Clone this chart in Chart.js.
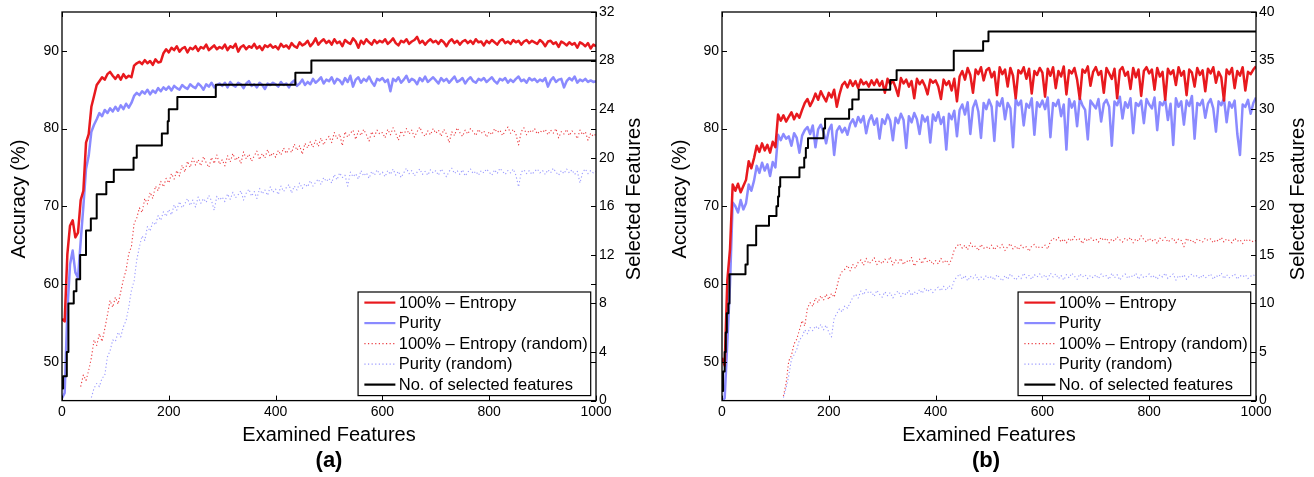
<!DOCTYPE html>
<html><head><meta charset="utf-8">
<script src="https://cdn.jsdelivr.net/npm/chart.js@4.4.1/dist/chart.umd.min.js"></script>
<style>
html,body{margin:0;padding:0;background:#fff;}
#wrap{position:relative;width:1314px;height:477px;overflow:hidden;background:#fff;}
canvas{position:absolute;top:0;}
#ca{left:0;} #cb{left:658px;}
</style></head><body>
<div id="wrap"><canvas id="ca" width="658" height="477"></canvas><canvas id="cb" width="656" height="477"></canvas></div>
<script>
const FONT = '"Liberation Sans", Arial, Helvetica, sans-serif';
Chart.defaults.font.family = FONT;
Chart.defaults.color = '#000';

// ---- shared axis data ----
const examined = [
0,5,10,15,20,25,30,35,40,45,50,55,60,65,70,75,80,85,90,95,
100,105,110,115,120,125,130,135,140,145,150,155,160,165,170,175,180,185,190,195,
200,205,210,215,220,225,230,235,240,245,250,255,260,265,270,275,280,285,290,295,
300,305,310,315,320,325,330,335,340,345,350,355,360,365,370,375,380,385,390,395,
400,405,410,415,420,425,430,435,440,445,450,455,460,465,470,475,480,485,490,495,
500,505,510,515,520,525,530,535,540,545,550,555,560,565,570,575,580,585,590,595,
600,605,610,615,620,625,630,635,640,645,650,655,660,665,670,675,680,685,690,695,
700,705,710,715,720,725,730,735,740,745,750,755,760,765,770,775,780,785,790,795,
800,805,810,815,820,825,830,835,840,845,850,855,860,865,870,875,880,885,890,895,
900,905,910,915,920,925,930,935,940,945,950,955,960,965,970,975,980,985,990,995,
1000];
const xTicks = [0,200,400,600,800,1000];
const accTicks = [50,60,70,80,90];
const selTicksA = [0,4,8,12,16,20,24,28,32];
const selTicksB = [0,5,10,15,20,25,30,35,40];
const seriesNames = ['100% \u2013 Entropy','Purity','100% \u2013 Entropy (random)','Purity (random)','No. of selected features'];

// ---- panel (a) ----
const entropyA = [
55.5,55.2,63.8,67.5,68.2,66.0,66.6,70.8,72.0,78.2,79.3,82.8,84.2,85.6,86.1,86.6,86.3,87.0,87.3,86.8,
86.4,86.9,86.3,87.0,86.5,86.8,86.6,88.1,88.4,88.6,88.3,88.8,88.4,88.7,88.2,88.9,88.5,88.6,89.7,90.2,
89.8,90.4,90.1,90.6,89.9,90.3,90.5,89.8,90.4,90.2,90.6,90.0,90.5,90.3,90.8,90.1,90.4,90.7,90.2,90.5,
90.3,90.8,90.1,90.6,90.4,90.9,89.9,90.5,90.7,90.2,90.6,90.4,90.9,90.3,90.6,90.1,90.7,90.5,90.8,90.4,
90.6,90.2,90.9,90.5,90.7,90.3,91.0,90.6,90.4,91.1,90.7,90.9,91.3,90.6,91.0,91.6,90.8,91.2,91.5,91.0,
91.3,90.8,91.5,91.0,91.2,90.6,91.4,91.1,90.9,91.6,91.2,90.4,91.3,90.9,91.5,91.1,90.8,91.4,91.0,91.3,
91.1,91.5,90.9,91.2,91.6,91.0,90.7,91.3,91.1,91.5,90.9,91.2,91.4,91.8,91.0,91.3,90.8,91.2,91.5,91.1,
91.3,90.9,91.4,91.1,90.6,91.2,91.5,91.0,91.3,90.8,91.2,91.4,91.0,91.3,90.9,91.5,91.1,91.2,90.7,91.3,
91.0,91.4,91.1,90.8,91.3,91.5,91.0,91.2,90.9,91.4,91.1,91.3,90.8,91.2,91.4,91.0,91.3,91.1,90.9,91.4,
91.1,90.6,91.2,91.3,90.9,91.1,90.5,91.2,91.0,90.7,91.1,90.8,91.0,90.4,91.1,90.9,90.6,91.0,90.3,90.8,
90.6];
const purityA = [
45.3,46.0,56.5,62.5,64.3,61.5,60.8,65.5,70.0,74.8,76.5,79.6,80.5,81.2,82.0,81.6,82.4,82.0,82.6,82.2,
82.8,82.3,83.0,82.5,83.2,82.7,83.3,84.2,84.6,84.3,84.8,84.5,85.0,84.4,84.9,84.6,85.2,84.8,85.3,85.0,
85.4,84.9,85.5,85.2,85.0,85.6,85.3,85.1,85.7,85.4,85.2,85.8,85.5,85.0,85.7,85.4,85.9,85.3,85.6,85.8,
85.5,85.9,85.3,86.0,85.6,85.4,85.9,85.7,85.2,85.8,86.1,85.5,85.7,85.3,85.9,85.6,85.1,85.8,85.6,85.9,
85.7,85.4,86.0,85.6,85.8,85.3,85.9,86.2,85.5,85.8,86.3,85.6,86.0,85.7,86.4,85.9,86.2,86.6,85.8,86.3,
86.1,86.6,85.8,86.4,86.2,85.7,86.5,86.0,86.8,85.4,86.3,86.6,85.9,86.4,86.1,86.7,86.0,85.5,86.4,86.2,
86.5,86.0,86.3,84.8,86.4,86.1,86.6,85.9,86.3,86.8,86.0,86.4,86.2,85.7,86.5,86.1,86.7,86.0,86.3,86.6,
86.2,85.8,86.5,86.1,86.4,85.9,86.3,86.7,86.0,86.2,86.5,85.8,86.3,86.6,86.1,85.9,86.4,86.2,86.5,86.0,
86.3,86.6,86.1,85.8,86.4,86.2,86.5,85.9,86.3,86.0,86.4,86.7,86.1,86.3,85.9,86.5,86.2,86.4,86.0,86.3,
86.1,86.5,85.4,86.2,86.6,86.0,86.3,86.4,85.3,86.1,86.5,86.2,86.7,85.9,86.3,86.1,86.4,86.0,86.2,86.0,
86.1];
const entropyRandA = [
null,null,null,null,null,null,null,46.8,48.3,47.6,48.9,50.5,52.8,52.1,53.6,52.6,54.2,56.0,57.9,57.0,
58.3,57.4,59.0,60.6,61.8,63.9,64.8,67.8,68.5,69.8,69.2,71.0,70.3,71.8,71.0,72.6,72.0,73.2,72.5,73.6,
73.0,74.2,73.5,74.6,73.9,75.3,74.4,75.8,75.0,76.2,75.3,76.0,75.2,76.4,75.6,75.0,76.3,75.5,76.6,75.4,
76.0,75.2,76.5,75.7,76.8,75.9,76.4,75.5,77.0,76.1,76.7,75.8,76.5,77.1,76.0,76.8,76.2,77.3,76.4,76.9,
76.3,77.2,76.6,77.5,76.8,77.4,76.9,78.0,77.2,77.8,76.7,78.1,77.5,78.3,77.6,78.5,77.7,78.8,77.9,78.6,
79.0,78.2,79.5,78.7,79.3,77.8,79.6,78.9,79.4,79.8,78.6,79.7,79.1,79.9,79.2,78.4,79.6,79.0,79.8,79.3,
79.5,78.8,79.9,79.2,80.1,79.4,78.5,79.7,79.1,80.0,79.3,79.8,78.9,79.6,80.2,79.4,79.0,79.7,79.2,80.0,
79.4,79.8,79.0,79.9,79.3,78.2,79.6,79.1,80.1,79.5,79.0,79.8,79.3,80.0,79.6,79.1,79.9,79.4,79.7,78.9,
79.6,79.2,80.0,79.5,79.8,79.1,79.7,80.2,79.4,79.9,79.3,77.9,79.6,80.1,79.2,79.8,79.5,80.0,79.3,79.7,
79.5,79.9,79.2,79.8,79.4,80.0,78.8,79.6,79.3,79.9,79.1,79.7,79.4,78.7,79.8,79.2,79.6,78.5,79.4,79.0,
79.3];
const purityRandA = [
null,null,null,null,null,null,null,null,null,null,null,45.4,46.6,47.2,46.8,47.9,48.2,50.6,51.4,52.8,
52.6,53.8,53.2,54.5,55.3,57.0,59.2,60.4,63.1,64.8,66.2,65.6,67.4,66.8,68.0,67.6,68.8,68.2,69.3,68.7,
69.6,68.9,70.2,69.5,70.6,69.8,70.3,71.0,70.1,70.8,69.9,71.2,70.4,71.0,70.5,71.4,70.7,69.5,71.3,70.8,
71.2,70.6,71.6,70.9,71.8,71.1,71.5,72.0,70.8,71.7,72.2,71.3,71.9,71.0,72.3,71.6,72.1,71.4,72.5,71.8,
72.2,71.5,72.6,71.9,72.4,72.8,71.7,72.6,72.1,73.0,72.3,72.9,72.5,73.3,72.6,73.1,73.5,72.8,73.7,73.2,
73.6,73.0,74.1,73.4,74.3,73.7,74.0,72.6,74.4,73.8,74.2,73.5,74.6,73.9,74.3,73.6,74.5,74.0,74.7,74.1,
74.4,73.8,74.6,74.1,74.8,74.0,74.5,73.7,74.3,74.9,74.2,74.6,73.9,74.4,74.8,74.1,74.5,74.0,74.7,74.3,
74.6,74.0,74.8,74.3,73.8,74.5,74.9,74.2,74.6,74.1,74.7,73.9,74.4,74.8,74.2,74.5,74.0,74.6,74.3,74.8,
74.4,74.0,74.7,74.2,74.9,74.5,74.1,74.6,74.3,74.8,74.0,72.5,74.4,74.7,74.2,74.6,74.1,74.5,74.8,74.3,
74.6,74.1,74.7,74.3,74.9,74.4,74.0,74.6,74.2,74.8,74.3,74.7,74.1,74.5,73.0,74.4,74.8,74.2,74.6,74.3,
74.5];
const stepXA = [0,2,9,12,22,27,34,45,54,65,83,97,134,140,187,198,200,216,288,437,467,1000];
const stepYA = [1,2,4,8,9,10,12,14,15,17,18,19,20,21,22,23,24,25,26,27,28,28];

// ---- panel (b) ----
const entropyB = [
50.5,49.5,60.5,64.5,72.8,72.0,72.9,71.8,72.6,73.4,75.8,74.9,76.2,77.8,77.0,78.1,77.2,77.9,76.9,78.3,
77.6,81.8,81.0,81.7,80.9,81.5,82.1,81.2,81.9,81.4,82.4,83.3,83.8,82.9,83.6,84.5,83.7,84.8,84.1,83.5,
84.6,84.0,85.0,82.8,84.4,85.6,86.0,85.3,86.2,85.5,86.1,85.2,86.3,85.7,86.0,85.4,86.2,85.6,86.3,85.5,
86.1,84.6,86.4,85.7,86.2,85.3,84.2,86.5,85.8,86.3,85.4,86.1,83.9,86.4,85.7,86.2,85.5,84.4,86.3,85.9,
86.2,85.4,83.8,86.3,85.6,86.1,84.9,86.4,83.5,86.7,87.4,86.3,87.8,86.9,84.6,87.6,87.0,87.9,86.2,87.5,
87.8,86.6,87.3,84.3,87.9,87.0,87.6,85.4,87.8,86.8,83.9,87.5,87.1,87.9,86.4,87.7,84.5,87.4,86.9,87.8,
87.2,84.1,87.7,86.8,87.9,85.2,87.4,86.7,88.0,84.4,87.5,87.1,87.8,86.3,83.8,87.6,87.2,88.0,85.5,87.3,
87.9,86.9,87.4,84.6,87.8,87.1,86.4,87.7,83.9,87.5,87.9,86.8,87.3,85.1,87.8,86.6,87.6,84.2,87.4,87.9,
87.1,87.6,85.0,87.8,86.7,87.3,83.7,87.7,87.0,87.5,85.6,87.9,86.8,87.4,84.3,87.6,87.2,85.4,87.8,86.9,
87.5,84.8,87.7,87.1,87.9,85.9,87.3,86.6,83.6,87.6,87.0,87.8,85.2,87.4,86.8,87.9,84.9,87.3,87.0,87.6,
88.0];
const purityB = [
45.0,45.3,52.5,60.0,70.5,70.0,69.2,70.8,69.6,70.4,72.8,72.0,73.3,75.2,74.3,75.6,74.6,75.4,73.9,75.7,
75.0,79.2,78.5,79.3,78.7,79.0,77.8,79.4,78.8,76.9,79.1,79.8,80.2,79.3,80.4,77.6,79.9,80.5,79.6,78.1,
79.8,80.5,76.6,79.7,80.3,79.5,80.1,79.2,80.6,81.2,80.3,81.5,80.8,81.6,79.4,81.0,81.7,80.5,81.3,78.7,
81.2,80.6,81.8,81.0,78.5,81.4,80.7,81.9,81.1,77.5,81.6,80.8,82.0,81.2,79.3,81.7,80.9,81.5,78.2,81.8,
81.0,82.1,80.6,81.5,77.3,81.9,81.2,82.3,79.0,82.4,83.1,81.8,83.4,79.3,82.7,83.6,82.2,78.8,83.3,82.5,
83.7,82.8,78.4,83.5,82.9,83.9,81.2,83.3,82.6,77.6,83.8,83.0,83.6,80.4,83.2,82.7,83.9,79.2,83.4,82.8,
83.6,82.5,84.0,78.9,83.3,82.9,83.7,81.6,83.1,77.3,83.8,82.7,83.5,80.3,83.9,83.0,82.4,78.6,83.6,83.1,
82.6,83.8,80.9,83.2,83.7,82.8,77.8,83.5,83.0,84.1,81.3,83.4,82.7,83.9,79.4,83.3,82.9,83.6,80.7,83.8,
83.1,82.6,84.0,79.8,83.4,83.0,83.7,81.1,83.2,77.9,83.9,82.8,83.5,80.5,83.6,82.9,84.2,78.7,83.3,83.0,
83.7,81.4,83.2,83.8,82.6,79.6,83.5,83.0,83.9,80.8,83.4,82.7,83.6,79.3,76.6,83.1,82.8,83.7,81.9,83.3,
84.0];
const entropyRandB = [
null,null,null,null,null,null,null,null,null,null,null,null,null,null,null,null,null,null,null,null,
null,null,null,45.6,47.2,50.1,50.8,52.3,52.9,54.1,55.3,54.6,56.9,57.6,57.1,58.2,57.6,58.5,57.9,58.7,
58.0,58.8,58.3,59.6,61.0,61.6,61.9,62.4,61.7,62.5,62.0,62.8,63.1,62.4,63.3,62.6,62.9,63.4,62.5,63.0,
62.6,63.2,62.8,63.5,62.4,63.1,62.7,63.3,62.5,63.0,62.8,63.4,62.3,62.9,63.2,62.6,63.5,62.8,63.1,62.5,
63.0,62.6,63.3,62.7,63.1,62.5,63.2,64.4,64.9,65.2,64.6,65.0,64.4,65.3,64.7,64.9,64.3,65.1,64.6,64.8,
64.5,65.0,64.4,64.9,64.6,65.1,64.3,64.8,65.2,64.5,64.9,64.4,65.0,64.6,64.8,64.2,64.9,65.1,64.6,64.8,
64.7,65.0,64.5,65.5,65.9,65.6,66.0,65.4,65.8,65.3,65.9,65.5,66.1,65.6,65.8,65.2,65.9,65.5,66.0,65.6,
65.8,65.4,66.0,65.6,65.9,65.3,65.8,65.5,66.1,65.7,65.4,65.9,65.6,66.0,65.3,65.8,65.5,66.2,65.7,65.4,
65.9,65.5,65.8,65.2,65.9,65.6,66.0,65.4,65.7,65.9,65.3,65.8,65.6,64.8,65.9,65.5,65.7,65.2,65.8,65.6,
65.4,65.9,65.6,65.8,65.3,65.7,65.5,66.0,65.4,65.8,65.6,65.3,65.9,65.5,65.7,65.2,65.8,65.5,65.7,65.4,
65.6];
const purityRandB = [
null,null,null,null,null,null,null,null,null,null,null,null,null,null,null,null,null,null,null,null,
null,null,null,45.4,46.6,48.2,50.3,50.9,51.6,52.8,53.2,54.1,53.6,54.4,54.0,54.6,54.2,54.8,54.1,54.7,
53.8,53.2,55.6,56.2,56.8,56.4,57.2,56.9,57.6,58.3,58.7,58.2,59.1,58.6,59.3,58.8,59.0,58.4,59.2,58.7,
58.3,59.0,58.5,58.9,58.2,58.8,59.1,58.4,58.9,58.6,59.2,58.5,59.0,58.7,59.3,58.8,59.5,59.0,59.4,58.9,
59.3,59.6,59.1,59.7,59.2,59.8,59.4,60.5,60.9,61.3,60.6,61.1,60.4,61.0,60.7,61.2,60.5,60.9,60.6,61.1,
60.7,61.0,60.5,61.2,60.8,60.4,61.1,60.6,61.3,60.9,60.5,61.0,60.7,61.4,60.8,61.1,60.6,61.2,60.9,61.3,
60.8,61.2,60.6,61.4,60.9,61.3,60.7,61.1,60.5,61.2,60.8,61.4,61.0,60.6,61.3,60.9,61.2,60.7,61.1,60.8,
61.2,60.7,61.3,60.9,61.1,60.6,61.4,60.8,61.2,60.5,61.0,61.3,60.7,61.1,60.9,61.4,60.6,61.2,60.8,61.0,
61.3,60.8,61.1,60.6,61.2,60.9,61.4,60.7,61.0,61.3,60.5,61.1,60.8,61.2,60.6,61.0,61.3,60.9,61.1,60.7,
61.2,60.8,61.0,61.3,60.6,61.1,60.9,61.4,60.7,61.2,60.8,61.0,61.3,60.6,61.1,60.9,61.2,60.7,61.0,61.2,
60.9];
const stepXB = [0,2,5,7,9,12,14,44,48,64,88,102,105,107,109,145,154,157,161,190,193,238,244,256,315,327,434,489,499,1000];
const stepYB = [1,3,5,7,9,10,13,14,16,18,19,20,21,22,23,24,25,26,27,28,29,30,31,32,33,34,36,37,38,38];

[entropyA,purityA,entropyRandA,purityRandA,entropyB,purityB,entropyRandB,purityRandB].forEach((s,i)=>{
  if (s.length !== examined.length) console.error('series '+i+' length '+s.length);
});

// ---- styles ----
const RED = '#e8191e', BLUE = '#8a8aff';
const styles = [
  {color: RED, width: 2.5, dash: []},
  {color: BLUE, width: 2.5, dash: []},
  {color: 'rgba(232,25,30,0.85)', width: 1.1, dash: [1.2, 2.4]},
  {color: 'rgba(120,120,255,0.75)', width: 1.1, dash: [1.2, 2.4]},
  {color: '#000', width: 2, dash: []}
];

const framePlugin = {
  id: 'frame',
  afterDatasetsDraw(chart, args, o) {
    const {ctx, chartArea: a, scales} = chart;
    ctx.save();
    // ticks (inward)
    const tl = 5;
    ctx.strokeStyle = '#000'; ctx.lineWidth = 1; ctx.setLineDash([]);
    ctx.beginPath();
    scales.x.ticks.forEach(t => {
      const p = Math.round(scales.x.getPixelForValue(t.value)) + 0.5;
      ctx.moveTo(p, a.bottom); ctx.lineTo(p, a.bottom - tl);
      ctx.moveTo(p, a.top); ctx.lineTo(p, a.top + tl);
    });
    scales.y.ticks.forEach(t => {
      const p = Math.round(scales.y.getPixelForValue(t.value)) + 0.5;
      ctx.moveTo(a.left, p); ctx.lineTo(a.left + tl, p);
      ctx.moveTo(a.right, p); ctx.lineTo(a.right - tl, p);
    });
    scales.y2.ticks.forEach(t => {
      const p = Math.round(scales.y2.getPixelForValue(t.value)) + 0.5;
      ctx.moveTo(a.right, p); ctx.lineTo(a.right - tl, p);
    });
    ctx.stroke();
    // frame box
    ctx.lineWidth = 1.3;
    ctx.strokeRect(a.left, a.top, a.right - a.left, a.bottom - a.top);
    // y axis titles (both read bottom-to-top)
    ctx.fillStyle = '#000';
    ctx.font = '20px ' + FONT;
    ctx.textAlign = 'center'; ctx.textBaseline = 'middle';
    [[o.leftTitleX, 'Accuracy (%)'], [o.rightTitleX, 'Selected Features']].forEach(([x, txt]) => {
      ctx.save(); ctx.translate(x, 199); ctx.rotate(-Math.PI / 2); ctx.fillText(txt, 0, 0); ctx.restore();
    });
    // legend
    ctx.font = '16.5px ' + FONT;
    const textW = Math.max(...seriesNames.map(n => ctx.measureText(n).width));
    const sampleLen = 31, padL = 6.3, gap = 3.4, padR = 3;
    const rowH = 20.5, boxW = padL + sampleLen + gap + textW + padR, boxH = 10.6 + 4 * rowH + 11;
    const bx = a.right - 5.3 - boxW, by = a.bottom - 5 - boxH;
    ctx.fillStyle = '#fff'; ctx.fillRect(bx, by, boxW, boxH);
    ctx.strokeStyle = '#000'; ctx.lineWidth = 1.2; ctx.strokeRect(bx, by, boxW, boxH);
    ctx.textAlign = 'left'; ctx.textBaseline = 'middle';
    seriesNames.forEach((name, i) => {
      const y = by + 10.6 + i * rowH;
      const st = styles[i];
      ctx.save();
      ctx.strokeStyle = st.color; ctx.lineWidth = st.width < 2 ? 1.2 : 2.2;
      ctx.setLineDash(st.dash);
      ctx.beginPath(); ctx.moveTo(bx + padL, y); ctx.lineTo(bx + padL + sampleLen, y); ctx.stroke();
      ctx.restore();
      ctx.fillStyle = '#000';
      ctx.fillText(name, bx + padL + sampleLen + gap, y + 0.5);
    });
    ctx.restore();
  }
};

function makeChart(id, p) {
  const pts = ys => examined.map((x, i) => ({x, y: ys[i]}));
  const stepPts = p.stepX.map((x, i) => ({x, y: p.stepY[i]}));
  const dsData = [pts(p.ent), pts(p.pur), pts(p.entR), pts(p.purR), stepPts];
  const orders = [1, 2, 3, 4, 0];
  const datasets = dsData.map((d, i) => ({
    label: seriesNames[i], data: d, yAxisID: i === 4 ? 'y2' : 'y',
    borderColor: styles[i].color, backgroundColor: styles[i].color,
    borderWidth: styles[i].width, borderDash: styles[i].dash,
    pointRadius: 0, pointHoverRadius: 0, fill: false, tension: 0,
    stepped: i === 4, borderJoinStyle: 'round', order: orders[i], spanGaps: false
  }));
  const tickFont = {size: 14};
  const plain = v => String(v);
  return new Chart(document.getElementById(id), {
    type: 'line',
    data: {datasets},
    options: {
      responsive: false, animation: false, devicePixelRatio: 1, events: [],
      layout: {padding: {top: 12, bottom: 3, left: 0, right: 0}},
      plugins: {
        legend: {display: false}, tooltip: {enabled: false},
        title: {display: true, text: p.tag, position: 'bottom', color: '#000',
                font: {size: 22, weight: 'bold'}, padding: {top: 0, bottom: 0}},
        frame: {leftTitleX: p.leftTitleX, rightTitleX: p.rightTitleX}
      },
      scales: {
        x: {type: 'linear', position: 'bottom', min: 0, max: 1000,
            afterBuildTicks: s => { s.ticks = xTicks.map(v => ({value: v})); },
            afterFit: s => { s.height = 47; },
            grid: {display: false, drawTicks: false}, border: {display: false},
            ticks: {font: tickFont, padding: 3, maxRotation: 0, autoSkip: false, color: '#000', callback: plain},
            title: {display: true, text: 'Examined Features', color: '#000', font: {size: 20}, padding: {top: 0, bottom: 0}}},
        y: {type: 'linear', position: 'left', min: 45, max: 95,
            afterBuildTicks: s => { s.ticks = accTicks.map(v => ({value: v})); },
            afterFit: s => { s.width = p.leftW; },
            grid: {display: false, drawTicks: false}, border: {display: false},
            ticks: {font: tickFont, padding: 3, color: '#000', callback: plain}},
        y2: {type: 'linear', position: 'right', min: 0, max: p.selMax,
            afterBuildTicks: s => { s.ticks = p.selTicks.map(v => ({value: v})); },
            afterFit: s => { s.width = p.rightW; },
            grid: {display: false, drawTicks: false}, border: {display: false},
            ticks: {font: tickFont, padding: 3, color: '#000', callback: plain}}
      }
    },
    plugins: [framePlugin]
  });
}

makeChart('ca', {tag: '(a)', ent: entropyA, pur: purityA, entR: entropyRandA, purR: purityRandA,
  stepX: stepXA, stepY: stepYA, selMax: 32, selTicks: selTicksA, leftW: 62, rightW: 62,
  leftTitleX: 19, rightTitleX: 634});
makeChart('cb', {tag: '(b)', ent: entropyB, pur: purityB, entR: entropyRandB, purR: purityRandB,
  stepX: stepXB, stepY: stepYB, selMax: 40, selTicks: selTicksB, leftW: 64, rightW: 58,
  leftTitleX: 22.5, rightTitleX: 640});
</script></body></html>
